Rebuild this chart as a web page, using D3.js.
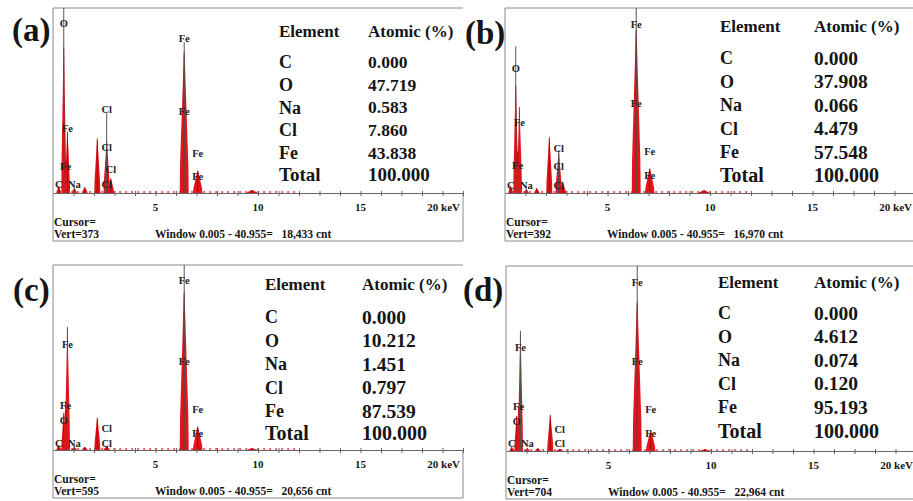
<!DOCTYPE html>
<html>
<head>
<meta charset="utf-8">
<script src="https://cdn.jsdelivr.net/npm/d3@7"></script>
<style>
body { margin: 0; background: #fff; }
svg { display: block; font-family: "Liberation Serif", "Times New Roman", serif; font-weight: bold; }
</style>
</head>
<body>
<svg id="drawing_region" width="913" height="501"></svg>
<script>
// ---- data ----
const panelNames = ["(a)", "(b)", "(c)", "(d)"];
const elements = ["C", "O", "Na", "Cl", "Fe"];
const atomicA = [0.000, 47.719, 0.583, 7.860, 43.838];
const atomicB = [0.000, 37.908, 0.066, 4.479, 57.548];
const atomicC = [0.000, 10.212, 1.451, 0.797, 87.539];
const atomicD = [0.000, 4.612, 0.074, 0.120, 95.193];
const totals = [100, 100, 100, 100];
const vertCounts = [373, 392, 595, 704];
const windowCounts = [18433, 16970, 20656, 22964];
const xTickLabels = [5, 10, 15];
const minorTicks = [1, 2, 3, 4, 5, 6, 7, 8, 9, 10, 11, 12, 13, 14, 15, 16, 17, 18, 19, 20];

// peak energies (keV) and peak counts per spectrum
const peakEnergy = [0.28, 0.525, 0.615, 0.705, 1.04, 1.55, 2.16, 2.62, 2.82, 6.40, 7.06, 9.71];
const peaksA = [14, 302, 66, 127, 10, 12, 113, 105, 30, 292, 46, 6];
const peaksB = [15, 233, 91, 182, 8, 10, 121, 87, 21, 356, 53, 6];
const peaksC = [16, 122, 160, 392, 10, 10, 106, 13, 0, 521, 77, 6];
const peaksD = [15, 137, 175, 453, 11, 11, 141, 8, 0, 582, 80, 7];

// KLM marker lines: [energy, counts]
const markersA = [[0.525, 373], [2.62, 161], [6.40, 304]];
const markersB = [[0.525, 311], [0.705, 182], [2.62, 91], [6.40, 392]];
const markersC = [[0.705, 396], [6.40, 595]];
const markersD = [[0.705, 457], [6.40, 704]];

// line labels: [element, energy, counts]
const labelsA = [["O", 0.525, 343], ["Fe", 6.40, 312], ["Cl", 2.62, 169], ["Fe", 6.40, 165], ["Fe", 0.705, 131],
  ["Cl", 2.62, 93], ["Fe", 7.06, 81], ["Fe", 0.615, 54], ["Cl", 2.82, 48], ["Fe", 7.06, 34],
  ["C", 0.277, 18], ["Na", 1.04, 18], ["Cl", 2.62, 18]];
const labelsB = [["Fe", 6.40, 358], ["O", 0.525, 265], ["Fe", 6.40, 191], ["Fe", 0.705, 150], ["Cl", 2.62, 95],
  ["Fe", 7.06, 89], ["Fe", 0.615, 59], ["Cl", 2.62, 57], ["Fe", 7.06, 38],
  ["C", 0.277, 17], ["Na", 1.04, 17], ["Cl", 2.62, 17]];
const labelsC = [["Fe", 6.40, 547], ["Fe", 0.705, 341], ["Fe", 6.40, 286], ["Fe", 0.615, 145], ["Fe", 7.06, 132],
  ["O", 0.525, 96], ["Cl", 2.62, 71], ["Fe", 7.06, 55], ["C", 0.277, 23], ["Na", 1.04, 23], ["Cl", 2.62, 23]];
const labelsD = [["Fe", 6.40, 643], ["Fe", 0.705, 396], ["Fe", 6.40, 342], ["Fe", 0.615, 171], ["Fe", 7.06, 160],
  ["O", 0.525, 114], ["Cl", 2.62, 84], ["Fe", 7.06, 68], ["C", 0.277, 30], ["Na", 1.04, 30], ["Cl", 2.62, 30]];

const atomic = [atomicA, atomicB, atomicC, atomicD];
const peaks = [peaksA, peaksB, peaksC, peaksD];
const markers = [markersA, markersB, markersC, markersD];
const lineLabels = [labelsA, labelsB, labelsC, labelsD];

// ---- layout ----
const layout = [
  {x0: 53, y0: 8, lx: 12, ly: 41, tx: 279, vx: 368, hy: 31, ry: 62, step: 22.7, ty: 175, valSize: 17.5, totSize: 19, right: true},
  {x0: 505, y0: 8, lx: 465, ly: 44, tx: 720, vx: 814, hy: 26, ry: 58, step: 23.5, ty: 175, valSize: 19.5, totSize: 20, right: false},
  {x0: 53, y0: 265, lx: 13, ly: 301, tx: 265, vx: 362, hy: 284, ry: 317, step: 23.5, ty: 433, valSize: 19.5, totSize: 20, right: true},
  {x0: 506, y0: 266, lx: 463, ly: 301, tx: 718, vx: 814, hy: 282, ry: 313, step: 23.5, ty: 431, valSize: 19.5, totSize: 20, right: false}
];
const plotW = 410, plotH = 185, boxH = 233;
const red = "#e2141c", ink = "#151515";
// spike outline: [offset relative to peak width, fraction of height]
const spikeShape = [[-1, 0], [-0.92, 0.2], [-0.65, 0.45], [-0.35, 0.72], [-0.12, 0.93], [0, 1],
  [0.12, 0.93], [0.35, 0.72], [0.65, 0.45], [0.92, 0.2], [1, 0]];

const svg = d3.select("#drawing_region");
const fmt3 = d3.format(".3f");

layout.forEach((L, i) => {
  const g = svg.append("g");
  const base = L.y0 + plotH;
  const x = d3.scaleLinear().domain([0, 20]).range([L.x0, L.x0 + plotW]);
  const y = d3.scaleLinear().domain([0, vertCounts[i]]).range([base, L.y0]).clamp(true);

  // frame
  const right = L.x0 + plotW;
  let frame = `M${right},${L.y0}H${L.x0}V${L.y0 + boxH}H${right}`;
  if (L.right) frame += `V${base}`;
  g.append("path").attr("d", frame).attr("fill", "none").attr("stroke", "#8a8a8a").attr("stroke-width", 1);

  // background noise along baseline
  g.append("line")
    .attr("x1", x(0.3)).attr("x2", x(12)).attr("y1", base - 1).attr("y2", base - 1)
    .attr("stroke", red).attr("stroke-width", 1.6).attr("stroke-dasharray", "2,4").attr("opacity", 0.85);

  // peaks
  const area = d3.line().x(d => d[0]).y(d => d[1]);
  peakEnergy.forEach((e, k) => {
    const c = peaks[i][k];
    if (!c) return;
    const w = 0.11 + 0.017 * e;
    const pts = spikeShape.map(s => [x(e + s[0] * w), y(s[1] * c)]);
    g.append("path").attr("d", area(pts) + "Z").attr("fill", red);
    g.append("line").attr("x1", x(e)).attr("x2", x(e)).attr("y1", base).attr("y2", y(c * 0.97))
      .attr("stroke", "#9a0000").attr("stroke-width", 0.8);
  });

  // marker lines
  g.selectAll(".mk").data(markers[i]).enter().append("line")
    .attr("x1", d => x(d[0])).attr("x2", d => x(d[0]))
    .attr("y1", base).attr("y2", d => y(d[1]))
    .attr("stroke", "#555").attr("stroke-width", 1);

  // axis line + ticks
  const axis = d3.axisBottom(x).tickValues(minorTicks).tickSizeInner(3).tickSizeOuter(0).tickFormat("");
  const ag = g.append("g").attr("transform", `translate(0,${base})`).call(axis);
  ag.select(".domain").attr("stroke", "#666");
  ag.selectAll(".tick line").attr("stroke", "#666").attr("y1", -2);

  g.selectAll(".tl").data(xTickLabels).enter().append("text")
    .attr("x", d => x(d)).attr("y", base + 18)
    .attr("text-anchor", "middle").attr("font-size", 11).attr("fill", ink)
    .text(d => d);
  g.append("text").attr("x", x(20) - 3).attr("y", base + 18)
    .attr("text-anchor", "end").attr("font-size", 11).attr("fill", ink).text("20 keV");

  // line labels
  g.selectAll(".ll").data(lineLabels[i]).enter().append("text")
    .attr("x", d => x(d[1])).attr("y", d => y(d[2]))
    .attr("dy", "0.35em").attr("text-anchor", "middle")
    .attr("font-size", 10.5).attr("fill", "#222")
    .text(d => d[0]);

  // footer
  g.append("text").attr("x", L.x0 + 1).attr("y", L.y0 + 218).attr("font-size", 11.5).attr("fill", ink).text("Cursor=");
  g.append("text").attr("x", L.x0 + 1).attr("y", L.y0 + 230).attr("font-size", 11.5).attr("fill", ink)
    .text("Vert=" + vertCounts[i]);
  g.append("text").attr("x", L.x0 + 102).attr("y", L.y0 + 230).attr("font-size", 11.5).attr("fill", ink)
    .style("white-space", "pre")
    .text("Window 0.005 - 40.955=   " + d3.format(",")(windowCounts[i]) + " cnt");

  // panel label
  svg.append("text").attr("x", L.lx).attr("y", L.ly).attr("font-size", 33).attr("fill", ink).text(panelNames[i]);

  // composition table
  const t = g.append("g").attr("fill", ink);
  t.append("text").attr("x", L.tx).attr("y", L.hy).attr("dy", "0.34em").attr("font-size", 17).text("Element");
  t.append("text").attr("x", L.vx).attr("y", L.hy).attr("dy", "0.34em").attr("font-size", 17).text("Atomic (%)");
  elements.forEach((el, k) => {
    const yy = L.ry + k * L.step;
    t.append("text").attr("x", L.tx).attr("y", yy).attr("dy", "0.34em").attr("font-size", 18).text(el);
    t.append("text").attr("x", L.vx).attr("y", yy).attr("dy", "0.34em").attr("font-size", L.valSize).text(fmt3(atomic[i][k]));
  });
  t.append("text").attr("x", L.tx).attr("y", L.ty).attr("dy", "0.34em").attr("font-size", L.totSize).text("Total");
  t.append("text").attr("x", L.vx).attr("y", L.ty).attr("dy", "0.34em").attr("font-size", L.totSize).text(fmt3(totals[i]));
});
</script>
</body>
</html>
